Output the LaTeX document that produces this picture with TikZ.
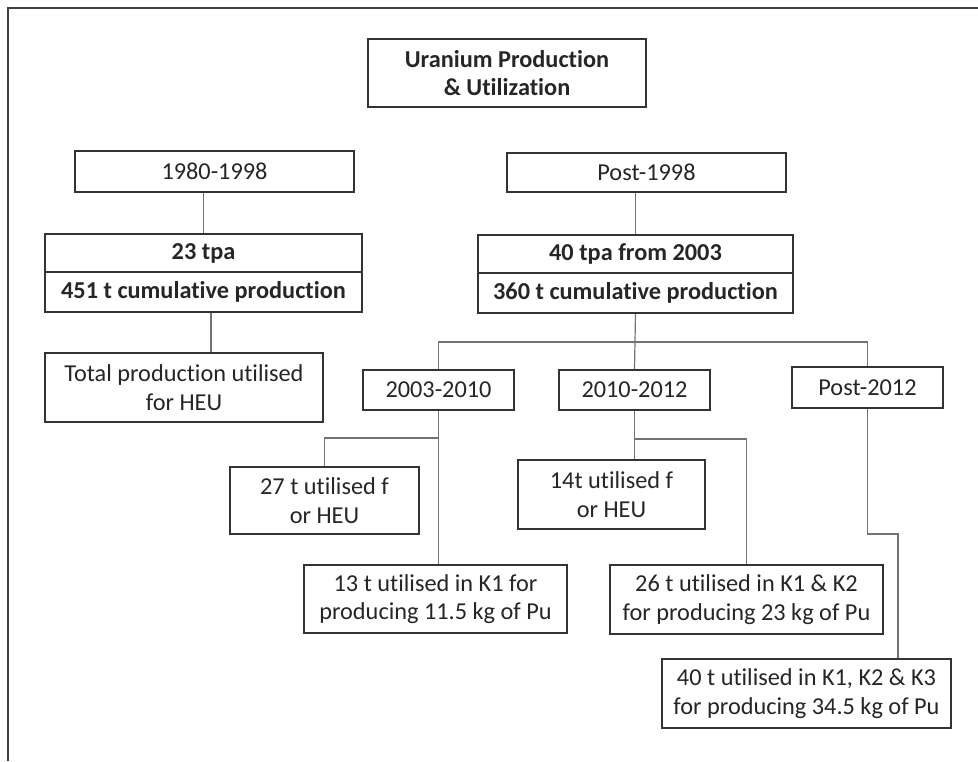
\documentclass[tikz,border=0pt]{standalone}
\usepackage{fontspec}
\setmainfont{Carlito}[Ligatures=NoCommon]
\begin{document}
\begin{tikzpicture}[x=1pt,y=-1pt,
  boite/.style={draw=black!80,line width=1.8pt,rectangle,inner sep=0pt,align=center,text=black!85,font=\fontsize{24.3}{28.5}\selectfont},
  lien/.style={black!55,line width=1.2pt}]
\useasboundingbox[fill=white] (0,0) rectangle (978,761);

%cadre
\draw[black!75,line width=1.5pt] (8,761) -- (8,8) -- (978,8);
%fin

%titre
\node[boite,minimum width=278,minimum height=68] (titre) at (507,73) {\bfseries Uranium Production\\\bfseries \& Utilization};
%fin

%branche gauche
\node[boite,minimum width=279,minimum height=41] (p1980) at (214.5,171.5) {1980-1998};
\node[boite,minimum width=317,minimum height=38] (tpa23) at (203.5,253) {\bfseries 23 tpa};
\node[boite,minimum width=317,minimum height=40] (cum451) at (203.5,292) {\bfseries 451 t cumulative production};
\node[boite,minimum width=278,minimum height=69] (total) at (184,387.5) {Total production utilised\\for HEU};
\draw[lien] (p1980.south -| tpa23.north) -- (tpa23.north);
\draw[lien] ([xshift=7.5pt]cum451.south) -- ([xshift=7.5pt]cum451.south |- total.north);
%fin

%branche droite
\node[boite,minimum width=279,minimum height=39] (post1998) at (646.5,172.5) {Post-1998};
\node[boite,minimum width=315,minimum height=38] (tpa40) at (635.5,254) {\bfseries 40 tpa from 2003};
\node[boite,minimum width=315,minimum height=40] (cum360) at (635.5,293) {\bfseries 360 t cumulative production};
\draw[lien] (post1998.south -| tpa40.north) -- (tpa40.north);
%fin

%periodes
\node[boite,minimum width=151,minimum height=40] (y0310) at (438.5,390) {2003-2010};
\node[boite,minimum width=151,minimum height=40] (y1012) at (634.5,390) {2010-2012};
\node[boite,minimum width=151,minimum height=41] (post2012) at (867.5,387.5) {Post-2012};
\coordinate (split) at (635,342);
\draw[lien] (cum360.south) -- (y1012.north);
\draw[lien] (y0310.north) |- (split) -| (post2012.north);
%fin

%2003-2010
\node[boite,minimum width=189,minimum height=67] (heu27) at (324.5,500.5) {27 t utilised f\\or HEU};
\node[boite,minimum width=263,minimum height=68] (k13) at (435.5,599) {13 t utilised in K1 for\\producing 11.5 kg of Pu};
\coordinate (b0310) at (438,438);
\draw[lien] (y0310.south) -- (y0310.south |- k13.north);
\draw[lien] (b0310) -| (heu27.north);
%fin

%2010-2012
\node[boite,minimum width=187,minimum height=69] (heu14) at (611.5,494.5) {14t utilised f\\or HEU};
\node[boite,minimum width=273,minimum height=69] (k26) at (746.5,599.5) {26 t utilised in K1 \& K2\\for producing 23 kg of Pu};
\coordinate (b1012) at (634.5,439);
\draw[lien] (y1012.south) -- (y1012.south |- heu14.north);
\draw[lien] (b1012) -| (k26.north);
%fin

%post-2012
\node[boite,minimum width=289,minimum height=69] (k40) at (806.5,693.5) {40 t utilised in K1, K2 \& K3\\for producing 34.5 kg of Pu};
\coordinate (coude) at (898,534);
\draw[lien] (post2012.south) |- (coude) -- (coude |- k40.north);
%fin
\end{tikzpicture}
\end{document}
